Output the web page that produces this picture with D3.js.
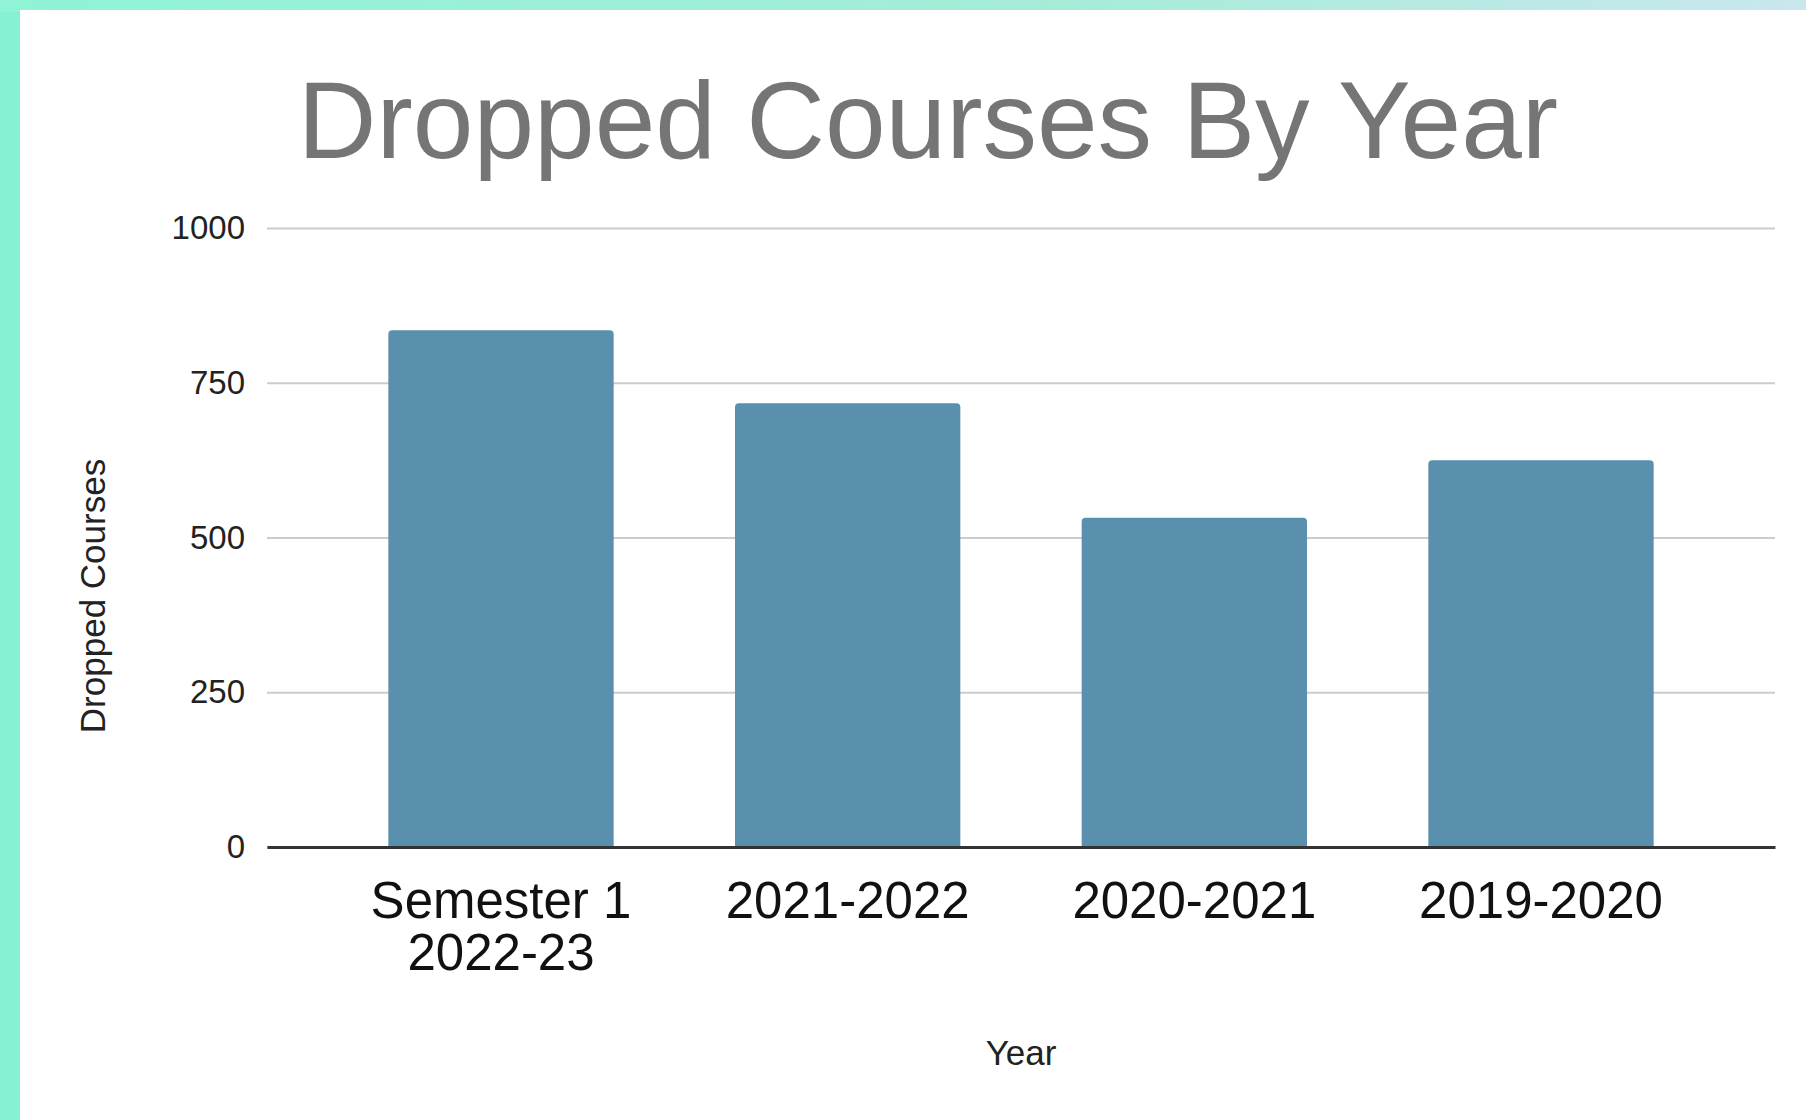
<!DOCTYPE html>
<html>
<head>
<meta charset="utf-8">
<script src="https://cdn.jsdelivr.net/npm/d3@7"></script>
<style>
  body { margin: 0; background: #86f1d3; }
  svg { display: block; font-family: "Liberation Sans", Arial, sans-serif; }
</style>
</head>
<body>
<svg id="chart"></svg>
<script>
// chart data
var categories = ["Semester 1\n2022-23", "2021-2022", "2020-2021", "2019-2020"];
var dropped = [835, 717, 532, 625];
var yTicks = [0, 250, 500, 750, 1000];

var W = 1806, H = 1120;
var plot = { left: 267, right: 1775, top: 228, bottom: 847 };

var svg = d3.select("#chart")
  .attr("width", W)
  .attr("height", H);

// mint backdrop with a faint bluish top strip
var grad = svg.append("defs").append("linearGradient")
  .attr("id", "topband");
grad.append("stop").attr("offset", "0%").attr("stop-color", "#8ff3d5");
grad.append("stop").attr("offset", "60%").attr("stop-color", "#a6ecd8");
grad.append("stop").attr("offset", "100%").attr("stop-color", "#c9e7ee");

svg.append("rect").attr("width", W).attr("height", H).attr("fill", "#86f1d3");
svg.append("rect").attr("width", W).attr("height", 12).attr("fill", "url(#topband)");
svg.append("rect")
  .attr("x", 20).attr("y", 10)
  .attr("width", W - 20).attr("height", H - 10)
  .attr("fill", "#ffffff");

var x = d3.scaleBand()
  .domain(categories)
  .range([plot.left, plot.right])
  .paddingInner(0.35)
  .paddingOuter(0.35);

var y = d3.scaleLinear()
  .domain([0, 1000])
  .range([plot.bottom, plot.top]);

// title
svg.append("text")
  .attr("x", 928)
  .attr("y", 158)
  .attr("text-anchor", "middle")
  .attr("fill", "#757575")
  .style("font-size", "109px")
  .text("Dropped Courses By Year");

// y axis + gridlines
var yAxis = svg.append("g")
  .attr("transform", "translate(" + plot.left + ",0)")
  .call(d3.axisLeft(y)
    .tickValues(yTicks)
    .tickSize(-(plot.right - plot.left))
    .tickPadding(22)
    .tickFormat(d3.format("d")));
yAxis.select(".domain").remove();
yAxis.selectAll(".tick line")
  .attr("stroke", "#cccccc")
  .attr("stroke-width", 2);
yAxis.selectAll(".tick text")
  .attr("fill", "#222222")
  .style("font-size", "33px");

// bars
svg.append("g")
  .selectAll("path")
  .data(categories)
  .enter()
  .append("path")
  .attr("fill", "#5990ad")
  .attr("d", function (d, i) {
    var x0 = x(d), w = x.bandwidth();
    var y0 = y(dropped[i]), y1 = y(0), r = 4;
    return "M" + x0 + "," + y1 +
      "V" + (y0 + r) +
      "Q" + x0 + "," + y0 + " " + (x0 + r) + "," + y0 +
      "H" + (x0 + w - r) +
      "Q" + (x0 + w) + "," + y0 + " " + (x0 + w) + "," + (y0 + r) +
      "V" + y1 + "Z";
  });

// x axis
var xAxis = svg.append("g")
  .attr("transform", "translate(0," + plot.bottom + ")")
  .call(d3.axisBottom(x).tickSize(0).tickFormat(""));
xAxis.select(".domain")
  .attr("stroke", "#333333")
  .attr("stroke-width", 3);

xAxis.selectAll(".tick").each(function (d) {
  var t = d3.select(this).append("text")
    .attr("text-anchor", "middle")
    .attr("fill", "#111111")
    .style("font-size", "51px");
  d.split("\n").forEach(function (line, k) {
    t.append("tspan")
      .attr("x", 0)
      .attr("y", 71 + k * 52)
      .text(line);
  });
});

// axis titles
svg.append("text")
  .attr("x", 1021)
  .attr("y", 1065)
  .attr("text-anchor", "middle")
  .attr("fill", "#222222")
  .style("font-size", "35px")
  .text("Year");

svg.append("text")
  .attr("transform", "translate(105,596) rotate(-90)")
  .attr("text-anchor", "middle")
  .attr("fill", "#222222")
  .style("font-size", "35px")
  .text("Dropped Courses");
</script>
</body>
</html>
